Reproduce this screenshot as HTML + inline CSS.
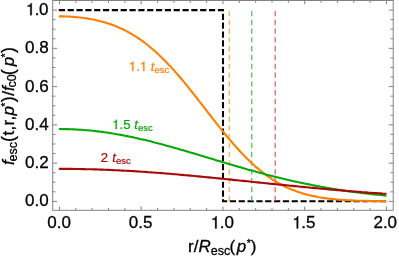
<!DOCTYPE html>
<html><head><meta charset="utf-8"><title>plot</title><style>
html,body{margin:0;padding:0;background:#fff;}
svg{display:block;font-family:"Liberation Sans",sans-serif;}
</style></head><body>
<svg width="399" height="259" viewBox="0 0 399 259">
<defs><filter id="nf" x="0" y="0" width="399" height="259" filterUnits="userSpaceOnUse"><feOffset dx="0" dy="0"/></filter></defs>
<rect width="399" height="259" fill="#fff"/>
<path d="M58.8,10.1 H223 V201.3 H385.8" fill="none" stroke="#000" stroke-width="2.05" stroke-dasharray="6.2 2.635"/>
<g fill="none" stroke-width="1.25" stroke-dasharray="5.3 3.5">
<path d="M229.30,10.9 V201.3" stroke="#fbab55"/>
<path d="M251.74,10.9 V201.3" stroke="#4fc04f"/>
<path d="M275.19,10.9 V201.3" stroke="#d06a6a"/>
</g>
<g fill="none" stroke-width="2.1" stroke-linejoin="round">
<path d="M58.9,16.4 L59.5,16.4 L61.5,16.4 L63.5,16.4 L65.6,16.5 L67.6,16.5 L69.7,16.6 L71.7,16.8 L73.8,16.9 L75.8,17.1 L77.8,17.3 L79.9,17.5 L81.9,17.7 L84.0,18.0 L86.0,18.3 L88.1,18.6 L90.1,19.0 L92.2,19.3 L94.2,19.7 L96.2,20.2 L98.3,20.7 L100.3,21.2 L102.4,21.7 L104.4,22.3 L106.5,22.9 L108.5,23.6 L110.5,24.3 L112.6,25.0 L114.6,25.8 L116.7,26.6 L118.7,27.5 L120.8,28.4 L122.8,29.3 L124.9,30.3 L126.9,31.4 L128.9,32.5 L131.0,33.7 L133.0,34.9 L135.1,36.1 L137.1,37.4 L139.2,38.8 L141.2,40.2 L143.2,41.7 L145.3,43.2 L147.3,44.8 L149.4,46.5 L151.4,48.2 L153.5,49.9 L155.5,51.7 L157.6,53.6 L159.6,55.5 L161.6,57.5 L163.7,59.5 L165.7,61.5 L167.8,63.7 L169.8,65.8 L171.9,68.1 L173.9,70.3 L175.9,72.6 L178.0,75.0 L180.0,77.3 L182.1,79.8 L184.1,82.2 L186.2,84.7 L188.2,87.2 L190.2,89.8 L192.3,92.3 L194.3,94.9 L196.4,97.5 L198.4,100.1 L200.5,102.8 L202.5,105.4 L204.6,108.0 L206.6,110.7 L208.6,113.3 L210.7,116.0 L212.7,118.6 L214.8,121.2 L216.8,123.8 L218.9,126.4 L220.9,128.9 L222.9,131.5 L225.0,134.0 L227.0,136.5 L229.1,138.9 L231.1,141.3 L233.2,143.7 L235.2,146.0 L237.3,148.3 L239.3,150.5 L241.3,152.7 L243.4,154.9 L245.4,157.0 L247.5,159.0 L249.5,161.0 L251.6,162.9 L253.6,164.8 L255.6,166.6 L257.7,168.4 L259.7,170.1 L261.8,171.7 L263.8,173.3 L265.9,174.9 L267.9,176.4 L270.0,177.8 L272.0,179.1 L274.0,180.5 L276.1,181.7 L278.1,182.9 L280.2,184.0 L282.2,185.1 L284.3,186.2 L286.3,187.2 L288.3,188.1 L290.4,189.0 L292.4,189.8 L294.5,190.6 L296.5,191.4 L298.6,192.1 L300.6,192.8 L302.7,193.4 L304.7,194.0 L306.7,194.5 L308.8,195.1 L310.8,195.6 L312.9,196.0 L314.9,196.4 L317.0,196.8 L319.0,197.2 L321.1,197.5 L323.1,197.9 L325.1,198.2 L327.2,198.4 L329.2,198.7 L331.3,198.9 L333.3,199.1 L335.4,199.3 L337.4,199.5 L339.4,199.7 L341.5,199.8 L343.5,200.0 L345.6,200.1 L347.6,200.2 L349.7,200.3 L351.7,200.4 L353.8,200.5 L355.8,200.6 L357.8,200.7 L359.9,200.7 L361.9,200.8 L364.0,200.8 L366.0,200.9 L368.1,200.9 L370.1,201.0 L372.1,201.0 L374.2,201.0 L376.2,201.0 L378.3,201.1 L380.3,201.1 L382.4,201.1 L384.4,201.1 L386.4,201.1" stroke="#ff8000"/>
<path d="M58.9,129.0 L59.5,129.0 L61.5,129.0 L63.5,129.1 L65.6,129.1 L67.6,129.1 L69.7,129.2 L71.7,129.3 L73.8,129.4 L75.8,129.5 L77.8,129.6 L79.9,129.7 L81.9,129.8 L84.0,130.0 L86.0,130.2 L88.1,130.3 L90.1,130.5 L92.2,130.7 L94.2,130.9 L96.2,131.2 L98.3,131.4 L100.3,131.7 L102.4,131.9 L104.4,132.2 L106.5,132.5 L108.5,132.8 L110.5,133.1 L112.6,133.5 L114.6,133.8 L116.7,134.2 L118.7,134.5 L120.8,134.9 L122.8,135.3 L124.9,135.7 L126.9,136.1 L128.9,136.5 L131.0,136.9 L133.0,137.3 L135.1,137.8 L137.1,138.2 L139.2,138.7 L141.2,139.2 L143.2,139.6 L145.3,140.1 L147.3,140.6 L149.4,141.1 L151.4,141.6 L153.5,142.2 L155.5,142.7 L157.6,143.2 L159.6,143.7 L161.6,144.3 L163.7,144.8 L165.7,145.4 L167.8,146.0 L169.8,146.5 L171.9,147.1 L173.9,147.7 L175.9,148.2 L178.0,148.8 L180.0,149.4 L182.1,150.0 L184.1,150.6 L186.2,151.2 L188.2,151.8 L190.2,152.4 L192.3,153.0 L194.3,153.6 L196.4,154.2 L198.4,154.8 L200.5,155.5 L202.5,156.1 L204.6,156.7 L206.6,157.3 L208.6,157.9 L210.7,158.5 L212.7,159.1 L214.8,159.8 L216.8,160.4 L218.9,161.0 L220.9,161.6 L222.9,162.2 L225.0,162.8 L227.0,163.4 L229.1,164.0 L231.1,164.6 L233.2,165.2 L235.2,165.8 L237.3,166.4 L239.3,167.0 L241.3,167.6 L243.4,168.2 L245.4,168.8 L247.5,169.4 L249.5,169.9 L251.6,170.5 L253.6,171.1 L255.6,171.6 L257.7,172.2 L259.7,172.7 L261.8,173.3 L263.8,173.8 L265.9,174.4 L267.9,174.9 L270.0,175.4 L272.0,176.0 L274.0,176.5 L276.1,177.0 L278.1,177.5 L280.2,178.0 L282.2,178.5 L284.3,179.0 L286.3,179.5 L288.3,180.0 L290.4,180.4 L292.4,180.9 L294.5,181.4 L296.5,181.8 L298.6,182.3 L300.6,182.7 L302.7,183.1 L304.7,183.6 L306.7,184.0 L308.8,184.4 L310.8,184.8 L312.9,185.2 L314.9,185.6 L317.0,186.0 L319.0,186.4 L321.1,186.8 L323.1,187.1 L325.1,187.5 L327.2,187.9 L329.2,188.2 L331.3,188.6 L333.3,188.9 L335.4,189.2 L337.4,189.6 L339.4,189.9 L341.5,190.2 L343.5,190.5 L345.6,190.8 L347.6,191.1 L349.7,191.4 L351.7,191.7 L353.8,191.9 L355.8,192.2 L357.8,192.5 L359.9,192.7 L361.9,193.0 L364.0,193.2 L366.0,193.5 L368.1,193.7 L370.1,193.9 L372.1,194.2 L374.2,194.4 L376.2,194.6 L378.3,194.8 L380.3,195.0 L382.4,195.2 L384.4,195.4 L386.4,195.6" stroke="#05a805"/>
<path d="M58.9,168.9 L59.5,168.9 L61.5,168.9 L63.5,168.9 L65.6,168.9 L67.6,168.9 L69.7,168.9 L71.7,168.9 L73.8,169.0 L75.8,169.0 L77.8,169.0 L79.9,169.0 L81.9,169.1 L84.0,169.1 L86.0,169.2 L88.1,169.2 L90.1,169.3 L92.2,169.3 L94.2,169.4 L96.2,169.4 L98.3,169.5 L100.3,169.6 L102.4,169.6 L104.4,169.7 L106.5,169.8 L108.5,169.9 L110.5,170.0 L112.6,170.1 L114.6,170.2 L116.7,170.3 L118.7,170.4 L120.8,170.5 L122.8,170.6 L124.9,170.7 L126.9,170.8 L128.9,170.9 L131.0,171.0 L133.0,171.1 L135.1,171.3 L137.1,171.4 L139.2,171.5 L141.2,171.7 L143.2,171.8 L145.3,171.9 L147.3,172.1 L149.4,172.2 L151.4,172.4 L153.5,172.5 L155.5,172.7 L157.6,172.8 L159.6,173.0 L161.6,173.1 L163.7,173.3 L165.7,173.5 L167.8,173.6 L169.8,173.8 L171.9,174.0 L173.9,174.2 L175.9,174.3 L178.0,174.5 L180.0,174.7 L182.1,174.9 L184.1,175.1 L186.2,175.2 L188.2,175.4 L190.2,175.6 L192.3,175.8 L194.3,176.0 L196.4,176.2 L198.4,176.4 L200.5,176.6 L202.5,176.8 L204.6,177.0 L206.6,177.2 L208.6,177.4 L210.7,177.6 L212.7,177.8 L214.8,178.0 L216.8,178.2 L218.9,178.4 L220.9,178.6 L222.9,178.8 L225.0,179.0 L227.0,179.2 L229.1,179.4 L231.1,179.6 L233.2,179.9 L235.2,180.1 L237.3,180.3 L239.3,180.5 L241.3,180.7 L243.4,180.9 L245.4,181.1 L247.5,181.3 L249.5,181.5 L251.6,181.8 L253.6,182.0 L255.6,182.2 L257.7,182.4 L259.7,182.6 L261.8,182.8 L263.8,183.0 L265.9,183.2 L267.9,183.4 L270.0,183.7 L272.0,183.9 L274.0,184.1 L276.1,184.3 L278.1,184.5 L280.2,184.7 L282.2,184.9 L284.3,185.1 L286.3,185.3 L288.3,185.5 L290.4,185.7 L292.4,185.9 L294.5,186.1 L296.5,186.3 L298.6,186.5 L300.6,186.7 L302.7,186.9 L304.7,187.1 L306.7,187.3 L308.8,187.5 L310.8,187.7 L312.9,187.9 L314.9,188.1 L317.0,188.3 L319.0,188.5 L321.1,188.7 L323.1,188.8 L325.1,189.0 L327.2,189.2 L329.2,189.4 L331.3,189.6 L333.3,189.7 L335.4,189.9 L337.4,190.1 L339.4,190.3 L341.5,190.4 L343.5,190.6 L345.6,190.8 L347.6,191.0 L349.7,191.1 L351.7,191.3 L353.8,191.5 L355.8,191.6 L357.8,191.8 L359.9,191.9 L361.9,192.1 L364.0,192.2 L366.0,192.4 L368.1,192.6 L370.1,192.7 L372.1,192.9 L374.2,193.0 L376.2,193.1 L378.3,193.3 L380.3,193.4 L382.4,193.6 L384.4,193.7 L386.4,193.8" stroke="#a80808"/>
</g>
<g stroke="#828282" stroke-width="1" fill="none">
<rect x="52.70" y="0.50" width="340.50" height="209.80"/>
<path d="M59.45,210.30 v-3.80 M59.45,0.50 v3.80"/>
<path d="M75.80,210.30 v-2.30 M75.80,0.50 v2.30"/>
<path d="M92.15,210.30 v-2.30 M92.15,0.50 v2.30"/>
<path d="M108.50,210.30 v-2.30 M108.50,0.50 v2.30"/>
<path d="M124.85,210.30 v-2.30 M124.85,0.50 v2.30"/>
<path d="M141.20,210.30 v-3.80 M141.20,0.50 v3.80"/>
<path d="M157.55,210.30 v-2.30 M157.55,0.50 v2.30"/>
<path d="M173.90,210.30 v-2.30 M173.90,0.50 v2.30"/>
<path d="M190.25,210.30 v-2.30 M190.25,0.50 v2.30"/>
<path d="M206.60,210.30 v-2.30 M206.60,0.50 v2.30"/>
<path d="M222.95,210.30 v-3.80 M222.95,0.50 v3.80"/>
<path d="M239.30,210.30 v-2.30 M239.30,0.50 v2.30"/>
<path d="M255.65,210.30 v-2.30 M255.65,0.50 v2.30"/>
<path d="M272.00,210.30 v-2.30 M272.00,0.50 v2.30"/>
<path d="M288.35,210.30 v-2.30 M288.35,0.50 v2.30"/>
<path d="M304.70,210.30 v-3.80 M304.70,0.50 v3.80"/>
<path d="M321.05,210.30 v-2.30 M321.05,0.50 v2.30"/>
<path d="M337.40,210.30 v-2.30 M337.40,0.50 v2.30"/>
<path d="M353.75,210.30 v-2.30 M353.75,0.50 v2.30"/>
<path d="M370.10,210.30 v-2.30 M370.10,0.50 v2.30"/>
<path d="M386.45,210.30 v-3.80 M386.45,0.50 v3.80"/>
<path d="M52.70,201.36 h4.40 M393.20,201.36 h-4.40"/>
<path d="M52.70,191.80 h2.70 M393.20,191.80 h-2.70"/>
<path d="M52.70,182.23 h2.70 M393.20,182.23 h-2.70"/>
<path d="M52.70,172.67 h2.70 M393.20,172.67 h-2.70"/>
<path d="M52.70,163.11 h4.40 M393.20,163.11 h-4.40"/>
<path d="M52.70,153.54 h2.70 M393.20,153.54 h-2.70"/>
<path d="M52.70,143.98 h2.70 M393.20,143.98 h-2.70"/>
<path d="M52.70,134.42 h2.70 M393.20,134.42 h-2.70"/>
<path d="M52.70,124.85 h4.40 M393.20,124.85 h-4.40"/>
<path d="M52.70,115.29 h2.70 M393.20,115.29 h-2.70"/>
<path d="M52.70,105.73 h2.70 M393.20,105.73 h-2.70"/>
<path d="M52.70,96.16 h2.70 M393.20,96.16 h-2.70"/>
<path d="M52.70,86.60 h4.40 M393.20,86.60 h-4.40"/>
<path d="M52.70,77.03 h2.70 M393.20,77.03 h-2.70"/>
<path d="M52.70,67.47 h2.70 M393.20,67.47 h-2.70"/>
<path d="M52.70,57.91 h2.70 M393.20,57.91 h-2.70"/>
<path d="M52.70,48.34 h4.40 M393.20,48.34 h-4.40"/>
<path d="M52.70,38.78 h2.70 M393.20,38.78 h-2.70"/>
<path d="M52.70,29.22 h2.70 M393.20,29.22 h-2.70"/>
<path d="M52.70,19.65 h2.70 M393.20,19.65 h-2.70"/>
<path d="M52.70,10.09 h4.40 M393.20,10.09 h-4.40"/>
</g>
<g filter="url(#nf)" stroke-width="0.3">
<g fill="#000" stroke="#000" font-size="17">
<text x="48.70" y="206.46" text-anchor="end">0.0</text>
<text x="48.70" y="168.21" text-anchor="end">0.2</text>
<text x="48.70" y="129.95" text-anchor="end">0.4</text>
<text x="48.70" y="91.70" text-anchor="end">0.6</text>
<text x="48.70" y="53.44" text-anchor="end">0.8</text>
<path d="M347,0H259V505H102V568Q196,574 243,612Q280,644 293,709H347Z" transform="translate(25.87,15.19) scale(0.0170,-0.0170)" stroke-width="17.6" />
<text x="48.40" y="15.19" text-anchor="end"><tspan letter-spacing="-0.6">.</tspan>0</text>
<text x="59.05" y="228.40" text-anchor="middle">0.0</text>
<text x="140.60" y="228.40" text-anchor="middle">0.5</text>
<path d="M347,0H259V505H102V568Q196,574 243,612Q280,644 293,709H347Z" transform="translate(210.73,228.40) scale(0.0170,-0.0170)" stroke-width="17.6" />
<text x="219.79" y="228.40">.0</text>
<path d="M347,0H259V505H102V568Q196,574 243,612Q280,644 293,709H347Z" transform="translate(292.28,228.40) scale(0.0170,-0.0170)" stroke-width="17.6" />
<text x="301.34" y="228.40">.5</text>
<text x="385.25" y="228.40" text-anchor="middle">2.0</text>
<text x="222.3" y="252.4" text-anchor="middle">r/<tspan font-style="italic">R</tspan><tspan font-size="12.5" dy="2.9">esc</tspan><tspan dy="-2.9" dx="-0.6">(</tspan><tspan font-style="italic" dx="1.4">p</tspan><tspan font-size="10.5" dy="-5.4" dx="0.5">*</tspan><tspan dy="5.4" dx="0.1">)</tspan></text>
<text transform="translate(13.8,108.4) rotate(-90)" text-anchor="end" x="61.3"><tspan font-style="italic">f</tspan><tspan font-size="12.5" dy="3.2" dx="-1.2">esc</tspan><tspan dy="-3.2" font-size="18" dx="0.1">(</tspan><tspan letter-spacing="0.25" dx="0.5">t,r,</tspan><tspan font-style="italic">p</tspan><tspan font-size="10.5" dy="-5" dx="-0.6">*</tspan><tspan dy="5" dx="0.3" font-size="18">)</tspan><tspan dx="0.7">/</tspan><tspan font-style="italic" dx="-0.2">f</tspan><tspan font-size="12.5" dy="2.5" dx="-1.2">c0</tspan><tspan dy="-2.5" font-size="18" dx="-0.8">(</tspan><tspan font-style="italic" dx="2.8">p</tspan><tspan font-size="10.5" dy="-5" dx="-0.6">*</tspan><tspan dy="5" dx="0.3" font-size="18">)</tspan></text>
</g>
<g font-size="13.2" stroke-width="0.2">
<path d="M347,0H259V505H102V568Q196,574 243,612Q280,644 293,709H347Z" transform="translate(128.80,70.90) scale(0.0132,-0.0132)" stroke-width="22.7" fill="#ff8000" stroke="#ff8000"/><path d="M347,0H259V505H102V568Q196,574 243,612Q280,644 293,709H347Z" transform="translate(139.81,70.90) scale(0.0132,-0.0132)" stroke-width="22.7" fill="#ff8000" stroke="#ff8000"/><text x="136.14" y="70.9" fill="#ff8000" stroke="#ff8000" letter-spacing="0">.<tspan dx="7.34"> </tspan><tspan font-style="italic">t</tspan><tspan font-size="9.5" dy="2.2">esc</tspan></text>
<path d="M347,0H259V505H102V568Q196,574 243,612Q280,644 293,709H347Z" transform="translate(112.20,129.00) scale(0.0132,-0.0132)" stroke-width="22.7" fill="#05a805" stroke="#05a805"/><text x="119.54" y="129" fill="#05a805" stroke="#05a805">.5 <tspan font-style="italic">t</tspan><tspan font-size="9.5" dy="2.2">esc</tspan></text>
<text x="100.8" y="162.1" fill="#a80808" stroke="#a80808">2 <tspan font-style="italic" dx="0.5">t</tspan><tspan font-size="9.5" dy="2.2">esc</tspan></text>
</g>
</g>
</svg>
</body></html>
